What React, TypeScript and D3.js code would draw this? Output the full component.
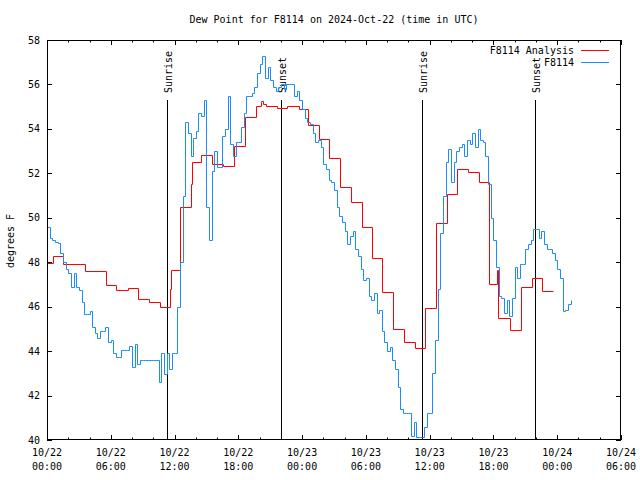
import React from "react";
import * as d3 from "d3";

const TITLE = "Dew Point for F8114 on 2024-Oct-22 (time in UTC)";
const Y_LABEL = "degrees F";
const SERIES_NAMES = ["F8114 Analysis", "F8114"];
const START_UTC = Date.UTC(2024, 9, 22, 0, 0);
const END_UTC = Date.UTC(2024, 9, 24, 6, 0);
const Y_TICKS = [40, 42, 44, 46, 48, 50, 52, 54, 56, 58];

// Sun events (hours after 10/22 00:00 UTC)
const SUN_LABELS = ["Sunrise", "Sunset", "Sunrise", "Sunset"];
const SUN_HOURS = [11.3, 21.97, 35.32, 45.93];

// Analysis (red) step series: start hour of each step and value
const RED_HOURS = [
  0, 0.6, 1.55, 3.6, 5.55, 6.5, 7.6, 8.6, 9.6, 10.6, 11.55, 11.62, 12.55, 13.58, 13.62,
  14.5, 15.56, 16.6, 17.62, 18.62, 19.63, 20.1, 20.16, 20.3, 20.63, 21.6, 22.6, 23.7,
  24.6, 25.58, 26.52, 27.6, 28.6, 29.6, 30.55, 31.55, 32.55, 33.55, 34.6, 35.55, 36.6,
  37.6, 38.6, 39.6, 40.6, 41.55, 42.35, 42.45, 43.6, 44.6, 45.6, 46.55, 47.6,
];
const RED_VALUES = [
  47.98, 48.3, 47.93, 47.6, 46.96, 46.75, 46.84, 46.35, 46.22, 45.97, 46.78, 47.65, 50.47, 51.52, 52.52,
  52.82, 52.4, 52.32, 53.24, 54.52, 55.04, 55.2, 55.27, 55.1, 55.04, 54.93, 55.02, 54.9,
  54.16, 53.53, 52.68, 51.37, 50.7, 49.59, 48.18, 46.66, 45.0, 44.41, 44.14, 45.93, 49.75,
  51.06, 52.18, 52.06, 51.61, 47.02, 47.65, 45.48, 44.95, 46.87, 47.27, 46.69, 46.69,
];

// Observations (blue), one reading every 15 minutes from 10/22 00:00 UTC
const BLUE_STEP_MIN = 15;
const BLUE_VALUES = [
  49.6, 49.1, 49.0, 48.9, 48.85, 48.4, 48.0, 47.7,
  47.5, 46.9, 47.5, 46.9, 46.75, 46.2, 45.65, 45.65,
  45.8, 45.1, 44.8, 44.6, 44.9, 44.9, 45.1, 44.4,
  44.5, 43.9, 43.75, 43.75, 44.05, 44.05, 44.05, 44.25,
  43.3, 44.3, 43.4, 43.6, 43.6, 43.6, 43.6, 43.6,
  43.6, 43.6, 42.6, 43.9, 42.95, 43.9, 43.2, 43.9,
  43.9, 46.0, 48.0, 51.0, 54.3, 53.8, 52.8, 53.6,
  53.9, 54.7, 54.6, 55.3, 50.5, 49.0, 52.1, 53.0,
  52.3, 52.3, 53.7, 54.0, 55.5, 53.3, 52.8, 53.4,
  53.4, 54.1, 54.7, 55.5, 55.5, 55.6, 55.9, 56.5,
  56.9, 57.3, 56.3, 56.8, 56.2, 55.9, 55.7, 55.9,
  56.0, 55.8, 56.0, 56.0, 56.0, 55.5, 55.7, 55.3,
  54.9, 54.5, 54.3, 54.2, 53.8, 53.4, 53.5, 53.2,
  52.4, 52.2, 51.7, 51.6, 51.25, 50.5, 50.1, 49.8,
  49.4, 48.8, 49.2, 49.4, 48.6, 48.3, 47.7, 47.2,
  47.3, 46.5, 46.3, 46.6, 45.7, 45.85, 44.9, 44.4,
  44.0, 44.2, 43.6, 43.2, 42.4, 41.4, 41.2, 41.2,
  41.2, 40.2, 40.8, 40.15, 40.15, 40.15, 40.6, 41.2,
  41.2, 43.0, 44.5, 46.8, 49.3, 51.0, 52.5, 53.1,
  51.6, 52.5, 53.0, 53.2, 53.3, 52.8, 53.5, 53.3,
  53.8, 53.2, 54.0, 53.5, 53.4, 52.8, 51.5, 50.0,
  49.0, 47.8, 46.5, 46.4, 45.7, 46.3, 45.6, 46.4,
  47.8, 47.3, 47.9, 47.9, 48.6, 48.8, 49.0, 49.5,
  49.5, 49.1, 49.4, 48.8, 48.6, 48.6, 48.4, 48.1,
  47.7, 47.3, 45.8, 45.85, 46.1, 46.3,
];

const COLORS = { red: "#ff0000", blue: "#1a8cff" };
const FONT = "'DejaVu Sans Mono', monospace";

const HOUR = 3600 * 1000;
const L = 47, R = 621, T = 40, B = 440;

const snap = (v: number) => Math.round(v) + 0.5;

export default function App() {
  const x = d3.scaleUtc().domain([new Date(START_UTC), new Date(END_UTC)]).range([L, R]);
  const y = d3.scaleLinear().domain([40, 58]).range([B, T]);

  const redData = RED_HOURS.map((h, i) => ({ t: new Date(START_UTC + h * HOUR), v: RED_VALUES[i] }));
  const blueData = BLUE_VALUES.map((v, i) => ({ t: new Date(START_UTC + i * BLUE_STEP_MIN * 60000), v }));

  const line = d3
    .line<{ t: Date; v: number }>()
    .x((d) => snap(x(d.t)))
    .y((d) => snap(y(d.v)))
    .curve(d3.curveStepAfter);

  const major = x.ticks(d3.utcHour.every(6)!);
  const minor = x.ticks(d3.utcHour.every(2)!).filter((d) => d.getUTCHours() % 6 !== 0);
  const fmtDate = d3.utcFormat("%m/%d");
  const fmtTime = d3.utcFormat("%H:%M");

  const MAJ = 5, MIN = 2.5;

  return (
    <svg width={640} height={480} style={{ position: "absolute", left: 0, top: 0, background: "#fff" }}
      fontFamily={FONT} fontSize={10}>
      <rect x={0} y={0} width={640} height={480} fill="#fff" />
      <text x={334} y={23} textAnchor="middle">{TITLE}</text>

      {/* sun markers */}
      {SUN_HOURS.map((h, i) => {
        const sx = snap(x(new Date(START_UTC + h * HOUR)));
        return (
          <g key={i}>
            <line x1={sx} x2={sx} y1={100} y2={B} stroke="#000" strokeWidth={1} />
            <text transform={`translate(${sx + 4.5},93) rotate(-90)`} textAnchor="start">{SUN_LABELS[i]}</text>
          </g>
        );
      })}

      {/* ticks */}
      <g stroke="#000" strokeWidth={1}>
        {major.map((d, i) => {
          const px = snap(x(d));
          return (
            <g key={"M" + i}>
              <line x1={px} x2={px} y1={B} y2={B - MAJ} />
              <line x1={px} x2={px} y1={T} y2={T + MAJ} />
            </g>
          );
        })}
        {minor.map((d, i) => {
          const px = snap(x(d));
          return (
            <g key={"m" + i}>
              <line x1={px} x2={px} y1={B} y2={B - MIN} />
              <line x1={px} x2={px} y1={T} y2={T + MIN} />
            </g>
          );
        })}
        {Y_TICKS.map((v) => (
          <g key={"y" + v}>
            <line x1={L} x2={L + MAJ} y1={snap(y(v))} y2={snap(y(v))} />
            <line x1={R} x2={R - MAJ} y1={snap(y(v))} y2={snap(y(v))} />
          </g>
        ))}
      </g>

      {/* tick labels */}
      {Y_TICKS.map((v) => (
        <text key={"yl" + v} x={40} y={y(v)} dy="0.35em" textAnchor="end">{v}</text>
      ))}
      {major.map((d, i) => (
        <g key={"xl" + i}>
          <text x={x(d)} y={456} textAnchor="middle">{fmtDate(d)}</text>
          <text x={x(d)} y={470} textAnchor="middle">{fmtTime(d)}</text>
        </g>
      ))}
      <text transform={`translate(14,241) rotate(-90)`} textAnchor="middle">{Y_LABEL}</text>

      {/* series */}
      <path d={line(redData) || ""} fill="none" stroke={COLORS.red} strokeWidth={1} />
      <path d={line(blueData) || ""} fill="none" stroke={COLORS.blue} strokeWidth={1} />

      {/* legend */}
      <text x={574} y={53.5} textAnchor="end">{SERIES_NAMES[0]}</text>
      <line x1={581} x2={609} y1={50.5} y2={50.5} stroke={COLORS.red} strokeWidth={1} />
      <text x={574} y={66} textAnchor="end">{SERIES_NAMES[1]}</text>
      <line x1={581} x2={609} y1={62.5} y2={62.5} stroke={COLORS.blue} strokeWidth={1} />

      {/* frame */}
      <rect x={L + 0.5} y={T + 0.5} width={R - L - 1} height={B - T - 1} fill="none" stroke="#000" strokeWidth={1} />
    </svg>
  );
}
